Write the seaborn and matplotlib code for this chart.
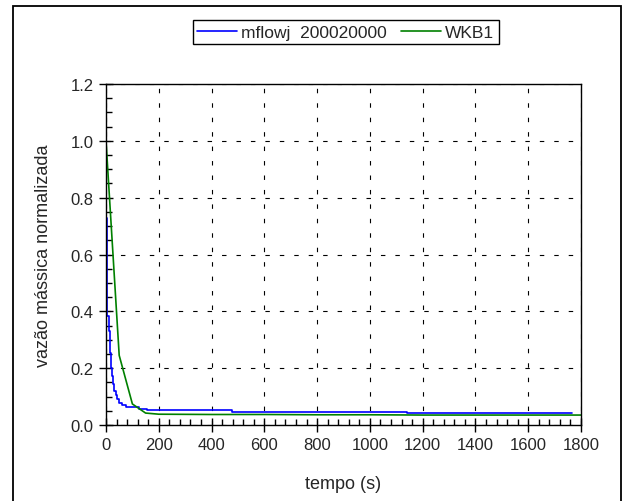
import matplotlib
matplotlib.use('Agg')
import matplotlib.pyplot as plt
import seaborn as sns
import pandas as pd
from matplotlib.ticker import MultipleLocator, FormatStrFormatter
from matplotlib.patches import Rectangle

# mflowj 200020000 (stepped curve)
blue_t = [0, 1, 4, 5, 12, 17, 20, 24, 28, 32, 37, 43, 50, 60, 75, 95, 125, 155, 478, 1142, 1765]
blue_v = [1.0, 0.73, 0.71, 0.385, 0.33, 0.255, 0.20, 0.173, 0.143, 0.12, 0.104, 0.09, 0.078, 0.069, 0.064, 0.062, 0.058, 0.052, 0.047, 0.043, 0.043]

# WKB1
green_t = [0, 50, 100, 150, 200, 400, 600, 800, 1000, 1200, 1400, 1600, 1800]
green_v = [1.0, 0.245, 0.074, 0.042, 0.038, 0.037, 0.037, 0.036, 0.036, 0.035, 0.035, 0.035, 0.035]

x_ticks = [0, 200, 400, 600, 800, 1000, 1200, 1400, 1600, 1800]
y_ticks = [0.0, 0.2, 0.4, 0.6, 0.8, 1.0, 1.2]

sns.set_theme(style='white')
plt.rcParams['font.family'] = ['Liberation Sans', 'DejaVu Sans']

fig = plt.figure(figsize=(6.26, 5.02), dpi=100)
ax = fig.add_axes([106 / 626, 1 - 426 / 502, (581 - 106) / 626, (426 - 85) / 502])

df_blue = pd.DataFrame({'t': blue_t, 'v': blue_v})
df_green = pd.DataFrame({'t': green_t, 'v': green_v})

sns.lineplot(data=df_blue, x='t', y='v', ax=ax, color='#0000ff', lw=1.2,
             drawstyle='steps-post', label='mflowj  200020000')
sns.lineplot(data=df_green, x='t', y='v', ax=ax, color='#008000', lw=1.2, label='WKB1')

ax.set_xlim(0, 1800)
ax.set_ylim(0, 1.2)
ax.set_xticks(x_ticks)
ax.set_yticks(y_ticks)
ax.yaxis.set_major_formatter(FormatStrFormatter('%.1f'))
ax.xaxis.set_minor_locator(MultipleLocator(40))
ax.yaxis.set_minor_locator(MultipleLocator(0.05))
ax.tick_params(which='major', direction='inout', length=10, width=1, color='black',
               labelsize=12, pad=4, bottom=True, left=True)
ax.tick_params(which='minor', direction='in', length=4, width=1, color='black',
               bottom=True, left=True)
ax.grid(True, which='major', color='black', lw=0.8, linestyle=(0, (4, 9)))

for sp in ax.spines.values():
    sp.set_color('black')
    sp.set_linewidth(1.0)

ax.set_xlabel('tempo (s)', fontsize=13, labelpad=16)
ax.set_ylabel('vazão mássica normalizada', fontsize=13, labelpad=13)

ax.get_legend().remove()
handles, labels = ax.get_legend_handles_labels()
leg = fig.legend(handles, labels, loc='upper center', bbox_to_anchor=(0.552, 0.975), ncol=2,
                 fontsize=12.5, frameon=True, fancybox=False, edgecolor='black',
                 handlelength=2.3, handletextpad=0.25, columnspacing=0.8,
                 borderpad=0.25, framealpha=1)
leg.get_frame().set_linewidth(1.0)

fig.patches.append(Rectangle((13 / 626, -0.01), (621 - 13) / 626, 1 - 7 / 502 + 0.01,
                             transform=fig.transFigure, fill=False, edgecolor='black', lw=1.3))

fig.savefig('out.png', dpi=100)
